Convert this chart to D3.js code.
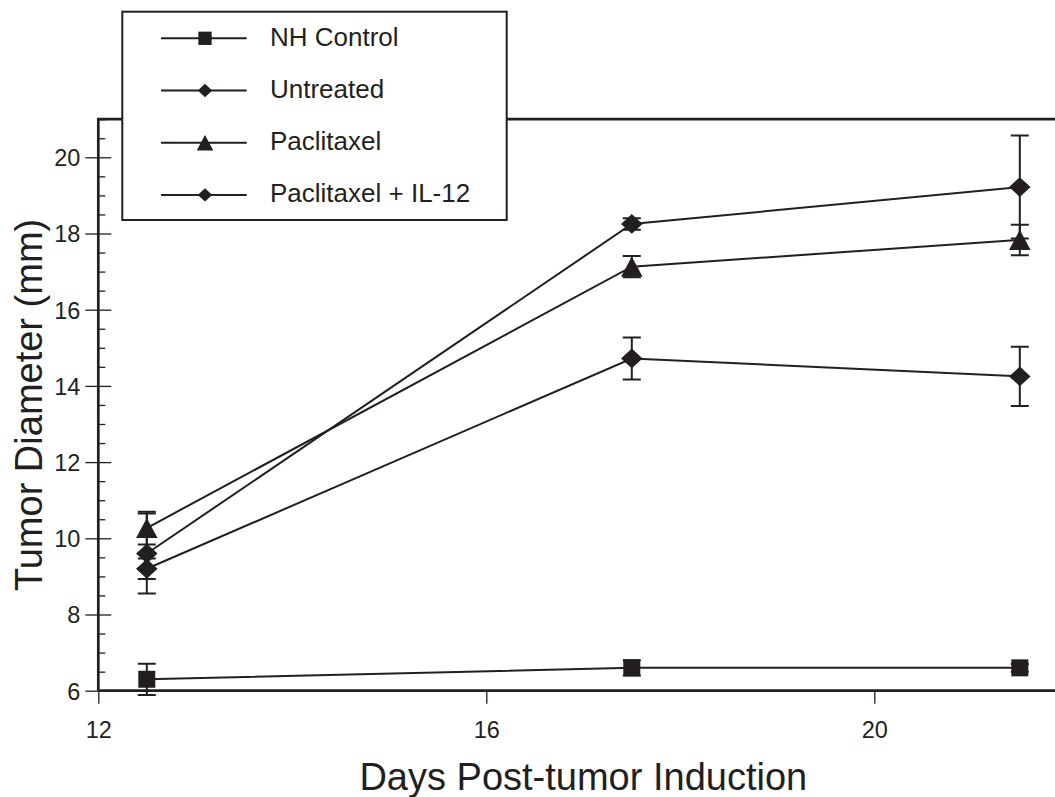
<!DOCTYPE html>
<html>
<head>
<meta charset="utf-8">
<script src="https://cdn.jsdelivr.net/npm/d3@7"></script>
<style>
  body { margin: 0; background: #fff; }
  svg { display: block; font-family: "Liberation Sans", Arial, Helvetica, sans-serif; }
</style>
</head>
<body>
<svg id="chart" width="1055" height="797"></svg>
<script>
// values
var days = [12.5, 17.5, 21.5];
var seriesNames = ["NH Control", "Untreated", "Paclitaxel", "Paclitaxel + IL-12"];
var seriesSymbols = ["square", "diamond", "triangle", "diamond"];
var nhControl = [6.3, 6.6, 6.6];
var nhControlErr = [0.41, 0.2, 0.1];
var untreated = [9.6, 18.25, 19.22];
var untreatedErr = [1.05, 0.15, 1.35];
var paclitaxel = [10.27, 17.13, 17.83];
var paclitaxelErr = [0.43, 0.28, 0.4];
var paclitaxelIL12 = [9.2, 14.72, 14.25];
var paclitaxelIL12Err = [0.27, 0.55, 0.78];
var xTicks = [12, 16, 20];
var yTicks = [6, 8, 10, 12, 14, 16, 18, 20];
var yMinor = d3.range(6.5, 21.01, 0.5).filter(v => yTicks.indexOf(v) < 0);

var values = [nhControl, untreated, paclitaxel, paclitaxelIL12];
var errors = [nhControlErr, untreatedErr, paclitaxelErr, paclitaxelIL12Err];

var ink = "#231f20";
var svg = d3.select("#chart");

var x = d3.scaleLinear().domain([12, 22]).range([98.3, 1068.3]);
var y = d3.scaleLinear().domain([6, 21]).range([690.7, 119.2]);

var series = seriesNames.map((name, i) => ({
	name: name,
	symbol: seriesSymbols[i],
	points: days.map((d, j) => ({day: d, v: values[i][j], e: errors[i][j]}))
}));

// marker shapes, size = width
function marker(sel, symbol, s) {
	if (symbol == "square") {
		sel.append("rect").attr("x", -s / 2).attr("y", -s / 2).attr("width", s).attr("height", s);
	} else if (symbol == "diamond") {
		var w = s / 2, h = s * 0.46;
		sel.append("path").attr("d", `M0,${-h}L${w},0L0,${h}L${-w},0Z`);
	} else {
		var w = s / 2, h = s * 0.47;
		sel.append("path").attr("d", `M0,${-h}L${w},${h}L${-w},${h}Z`);
	}
}

// axes
var yAxis = svg.append("g")
	.attr("transform", `translate(${x(12)},0)`)
	.call(d3.axisLeft(y).tickValues(yTicks).tickSize(13).tickPadding(6));
yAxis.selectAll(".tick line").attr("x1", 13);
yAxis.selectAll(".tick text").attr("x", -18).attr("dy", "0.36em");

var yMinorAxis = svg.append("g")
	.attr("transform", `translate(${x(12)},0)`)
	.call(d3.axisRight(y).tickValues(yMinor).tickSize(7).tickFormat(""));

var xAxis = svg.append("g")
	.attr("transform", `translate(0,${y(6)})`)
	.call(d3.axisBottom(x).tickValues(xTicks).tickSize(13).tickFormat(d3.format("d")));
xAxis.selectAll(".tick text").attr("y", 47.3).attr("dy", 0);

svg.selectAll(".domain").remove();
svg.selectAll(".tick line").attr("stroke", ink).attr("stroke-width", 1.3);
svg.selectAll(".tick text").attr("fill", ink).style("font-size", "23.5px").attr("font-family", null);

// frame lines
svg.append("path")
	.attr("d", `M${x(12)},${y(6)}V${y(21)}H1055M${x(12)},${y(6)}H1055`)
	.attr("fill", "none").attr("stroke", ink).attr("stroke-width", 2.7);

// axis titles
svg.append("text")
	.attr("x", x(17)).attr("y", 790)
	.attr("text-anchor", "middle")
	.attr("fill", ink).style("font-size", "38px")
	.text("Days Post-tumor Induction");

svg.append("text")
	.attr("transform", `translate(42,${(y(6) + y(21)) / 2}) rotate(-90)`)
	.attr("text-anchor", "middle")
	.attr("fill", ink).style("font-size", "38px")
	.text("Tumor Diameter (mm)");

// error bars
var eg = svg.append("g").attr("stroke", ink).attr("stroke-width", 2).attr("fill", "none");
series.forEach(s => {
	s.points.forEach(p => {
		var cx = x(p.day), top = y(p.v + p.e), bot = y(p.v - p.e);
		eg.append("path").attr("d", `M${cx},${top}V${bot}M${cx - 9},${top}H${cx + 9}M${cx - 9},${bot}H${cx + 9}`);
	});
});

// lines
var line = d3.line().x(d => x(d.day)).y(d => y(d.v));
svg.append("g").selectAll("path")
	.data(series).join("path")
	.attr("d", d => line(d.points))
	.attr("fill", "none").attr("stroke", ink).attr("stroke-width", 2);

// markers
series.forEach(s => {
	s.points.forEach(p => {
		var g = svg.append("g").attr("transform", `translate(${x(p.day)},${y(p.v)})`).attr("fill", ink);
		marker(g, s.symbol, s.symbol == "square" ? 17 : 21.5);
	});
});

// legend
var legend = svg.append("g");
legend.append("rect")
	.attr("x", 122.3).attr("y", 11.7).attr("width", 384.4).attr("height", 208.3)
	.attr("fill", "#fff").attr("stroke", ink).attr("stroke-width", 2);

var rowY = d3.scaleLinear().domain([0, 3]).range([38.3, 194.9]);
series.forEach((s, i) => {
	var row = legend.append("g").attr("transform", `translate(0,${rowY(i)})`);
	row.append("line").attr("x1", 161).attr("x2", 246.7)
		.attr("stroke", ink).attr("stroke-width", 2);
	var m = row.append("g").attr("transform", "translate(205,0)").attr("fill", ink);
	marker(m, s.symbol, s.symbol == "square" ? 13.3 : (s.symbol == "diamond" ? 14.5 : 16.5));
	row.append("text").attr("x", 270).attr("y", 7.5)
		.attr("fill", ink).style("font-size", "26px")
		.text(s.name);
});
</script>
</body>
</html>
